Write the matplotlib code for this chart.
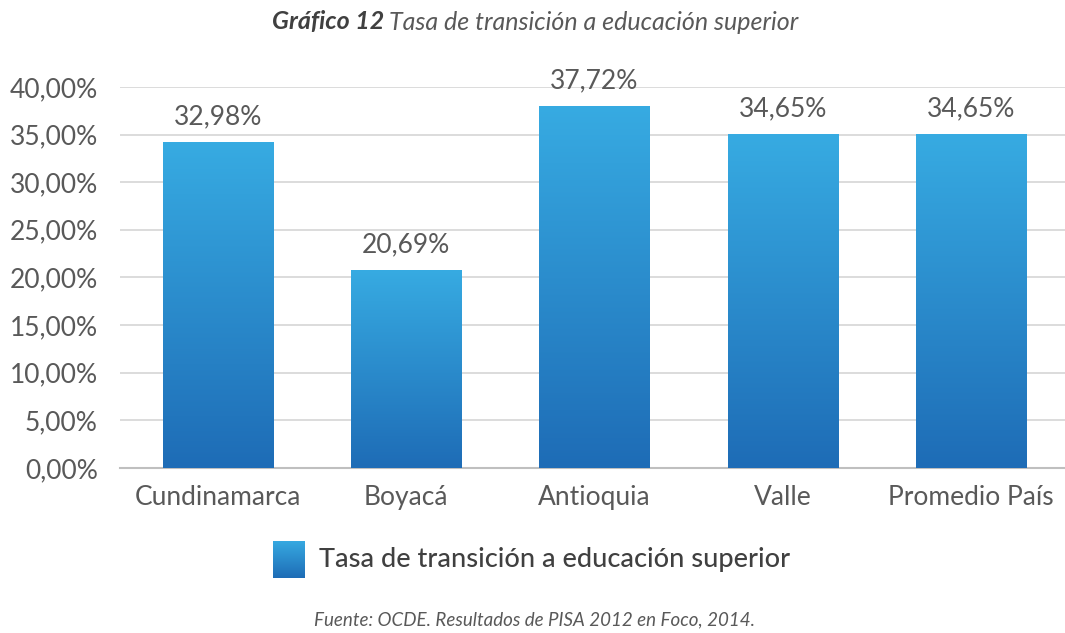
import matplotlib
matplotlib.use("Agg")
import matplotlib.pyplot as plt
import numpy as np
from matplotlib.colors import LinearSegmentedColormap

# data
categories = ["Cundinamarca", "Boyacá", "Antioquia", "Valle", "Promedio País"]
bar_heights = [34.2, 20.8, 38.0, 35.05, 35.05]   # drawn heights (%)
value_labels = ["32,98%", "20,69%", "37,72%", "34,65%", "34,65%"]
yticks = [0, 5, 10, 15, 20, 25, 30, 35, 40]
series_name = "Tasa de transición a educación superior"

plt.rcParams["font.family"] = ["Lato", "DejaVu Sans"]
grey = "#595959"
cmap = LinearSegmentedColormap.from_list("blu", ["#1E6CB6", "#37ABE2"])

fig = plt.figure(figsize=(10.65, 6.33), dpi=100)
ax = fig.add_axes([0.1127, 0.2607, 0.8873, 0.602])

x = np.arange(len(categories))
bars = ax.bar(x, bar_heights, width=0.585, color="none", zorder=3)
grad = np.linspace(0, 1, 256).reshape(-1, 1)
for b in bars:
    bx, by = b.get_x(), b.get_y()
    w, h = b.get_width(), b.get_height()
    im = ax.imshow(grad, cmap=cmap, origin="lower", aspect="auto",
                   extent=[bx, bx + w, by, by + h], zorder=3)
    im.set_clip_path(b)

for xi, h, lab in zip(x, bar_heights, value_labels):
    ax.annotate(lab, (xi, h), xytext=(0, 9), textcoords="offset points",
                ha="center", va="bottom", fontsize=19, color=grey)

ax.set_xlim(-0.52, 4.5)
ax.set_ylim(0, 40)
ax.set_yticks(yticks)
ax.set_yticklabels([f"{v:.2f}".replace(".", ",") + "%" for v in yticks])
ax.set_xticks(x)
ax.set_xticklabels(categories)
ax.tick_params(axis="both", length=0, labelsize=19, colors=grey)
ax.tick_params(axis="y", pad=16)
ax.tick_params(axis="x", pad=12)
ax.grid(axis="y", color="#D9D9D9", lw=1.3, zorder=0)
ax.set_axisbelow(True)
for s in ["top", "right", "left"]:
    ax.spines[s].set_visible(False)
ax.spines["bottom"].set_color("#BFBFBF")
ax.spines["bottom"].set_linewidth(1.5)

# legend
lax = fig.add_axes([273 / 1065, (633 - 578) / 633, 32 / 1065, 37 / 633])
lax.imshow(grad, cmap=cmap, origin="lower", aspect="auto", extent=[0, 1, 0, 1])
lax.axis("off")
fig.text(319 / 1065, 1 - 560 / 633, series_name, fontsize=19.5, color="#404040",
         fontweight="medium", va="center", ha="left")

# title, bold part + italic part centred together
ty = 1 - 22 / 633
t1 = fig.text(0, ty, "Gráfico 12 ", fontsize=18, color="#404040",
              fontweight="bold", style="italic", ha="left", va="center")
t2 = fig.text(0, ty, "Tasa de transición a educación superior",
              fontsize=18, color=grey, style="italic", ha="left", va="center")
r = fig.canvas.get_renderer()
w1 = t1.get_window_extent(r).width
w2 = t2.get_window_extent(r).width
x0 = 535 - (w1 + w2) / 2
t1.set_x(x0 / 1065)
t2.set_x((x0 + w1) / 1065)

fig.text(535 / 1065, 1 - 620 / 633, "Fuente: OCDE. Resultados de PISA 2012 en Foco, 2014.",
         fontsize=13.5, color=grey, style="italic", ha="center", va="center")

fig.savefig("out.png", dpi=100)
